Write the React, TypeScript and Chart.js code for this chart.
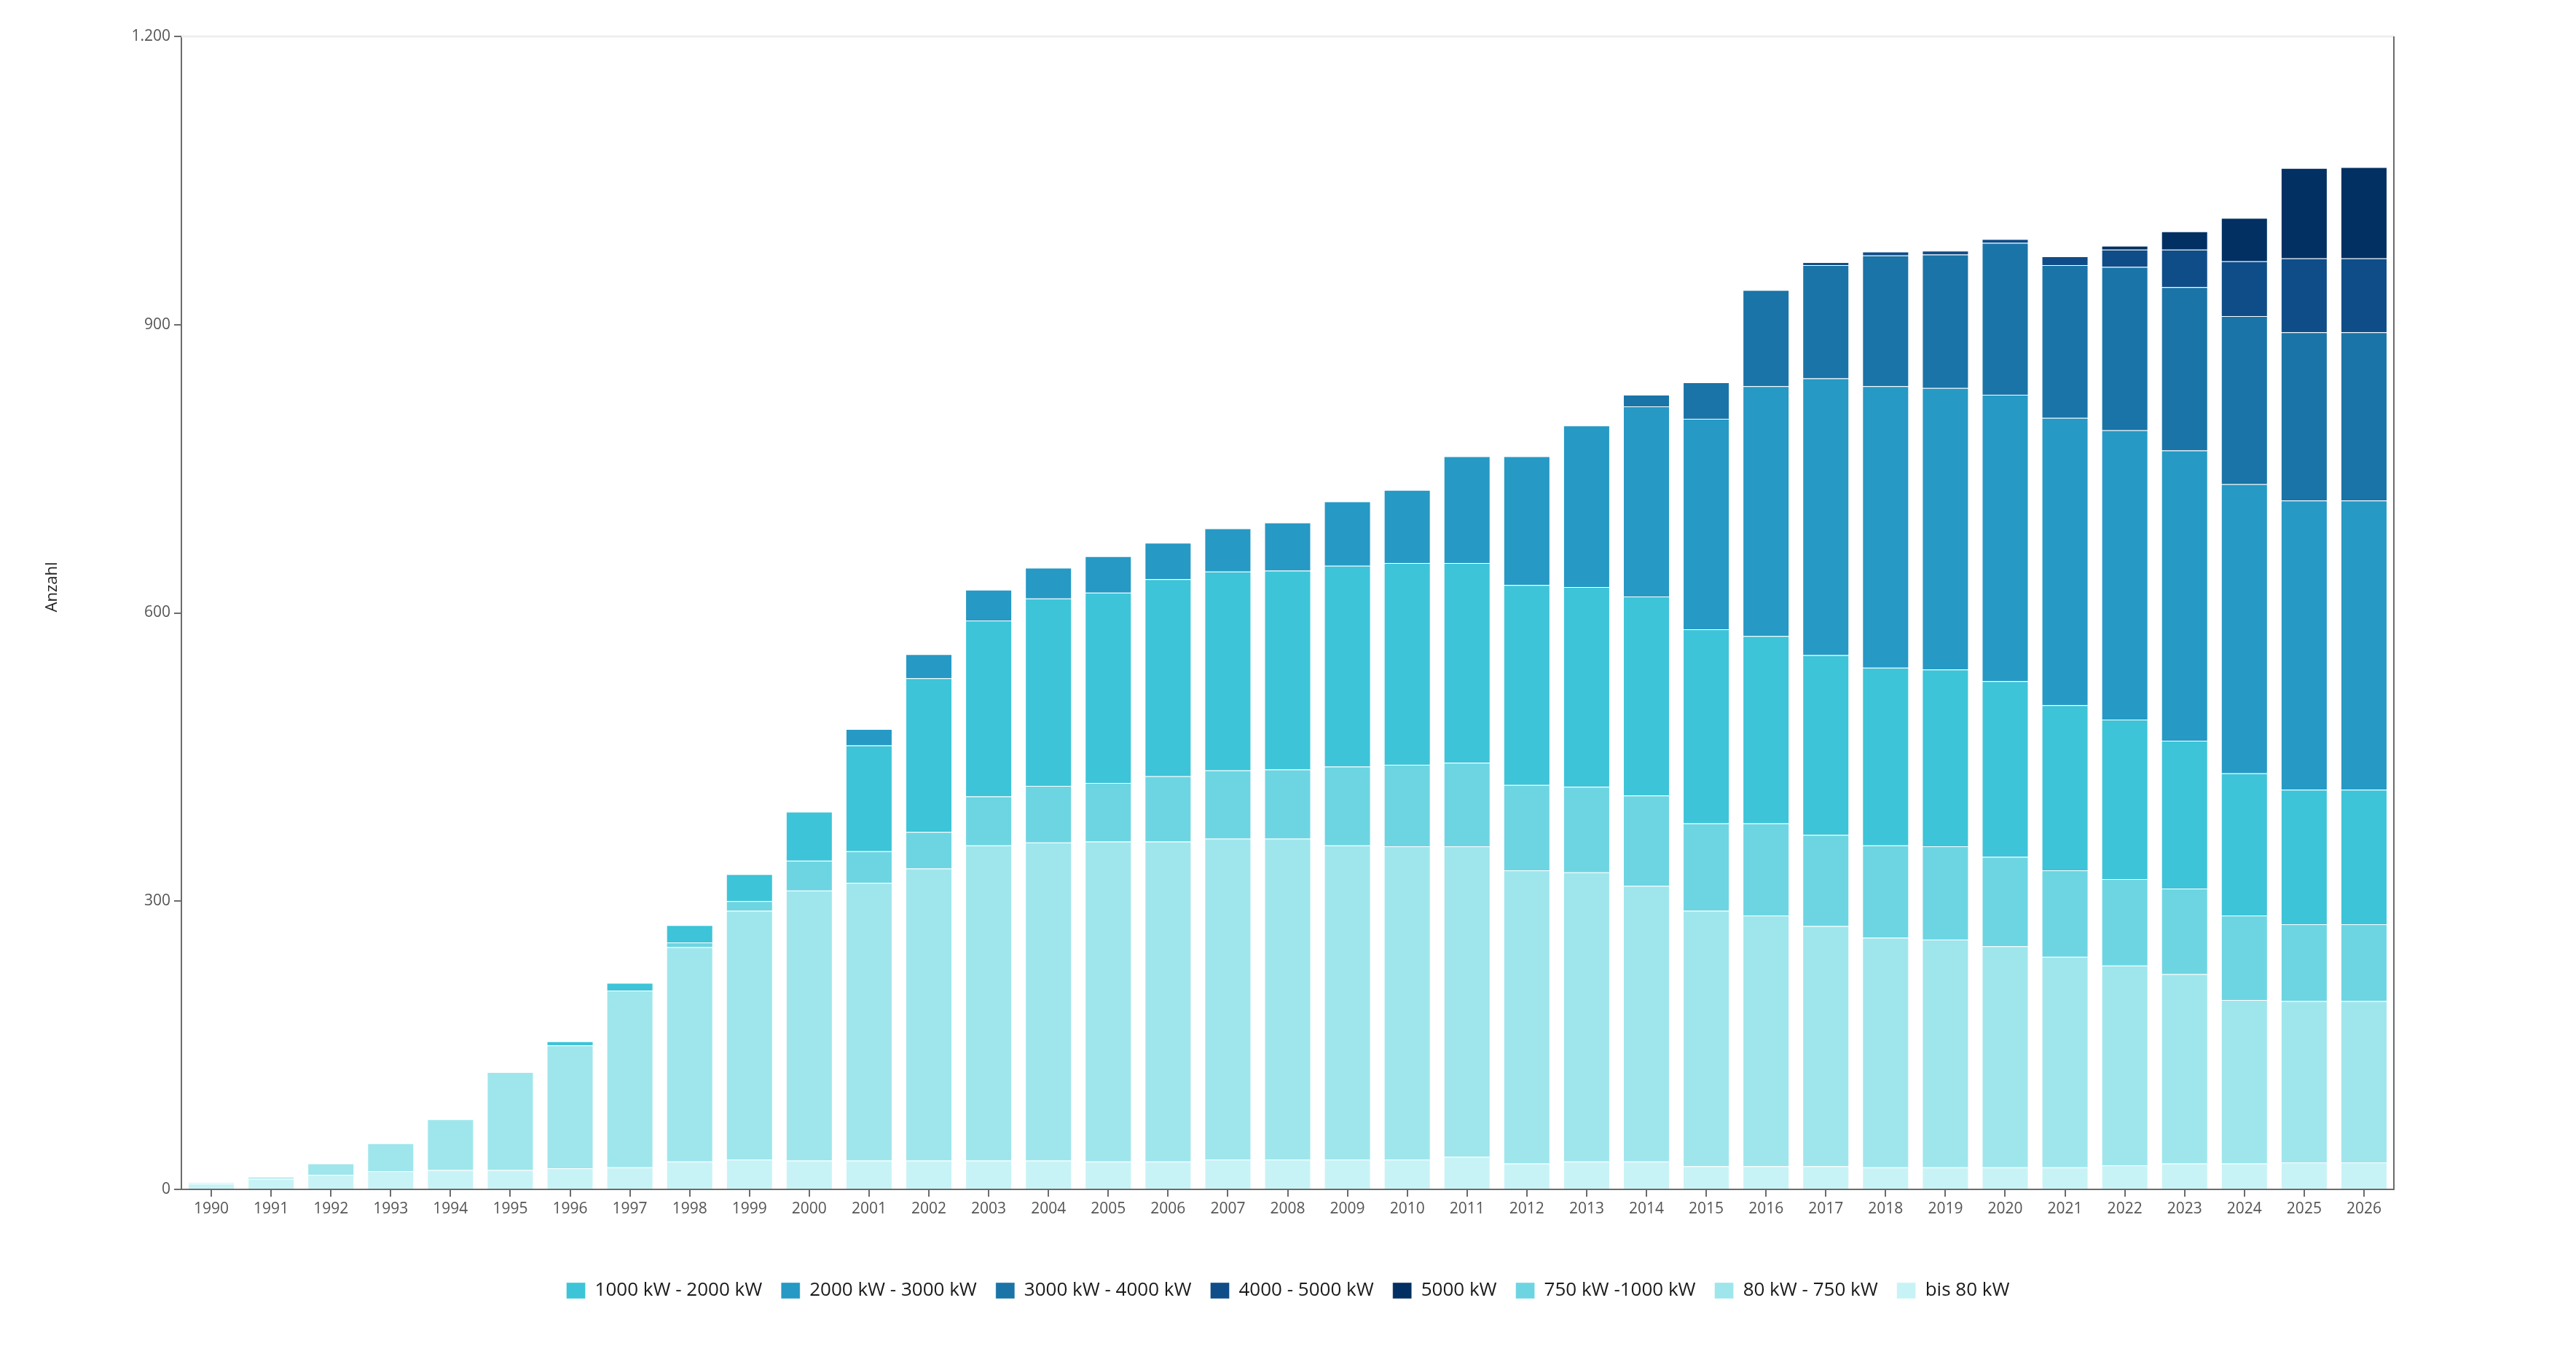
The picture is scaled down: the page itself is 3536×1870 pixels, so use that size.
import React, { useEffect, useRef } from "react";
import { Chart, registerables } from "chart.js";

Chart.register(...registerables);

const years = [
  "1990", "1991", "1992", "1993", "1994", "1995", "1996", "1997", "1998", "1999",
  "2000", "2001", "2002", "2003", "2004", "2005", "2006", "2007", "2008", "2009",
  "2010", "2011", "2012", "2013", "2014", "2015", "2016", "2017", "2018", "2019",
  "2020", "2021", "2022", "2023", "2024", "2025", "2026",
];

const bis80 = [6, 11, 15, 19, 20, 20, 22, 23, 29, 31, 30, 30, 30, 30, 30, 29, 29, 31, 31, 31, 31, 34, 27, 29, 29, 24, 24, 24, 23, 23, 23, 23, 25, 27, 27, 28, 28];
const kw80to750 = [1, 2, 12, 29, 53, 102, 128, 184, 223, 259, 281, 289, 304, 328, 331, 333, 333, 334, 334, 327, 326, 323, 305, 301, 287, 266, 261, 250, 239, 237, 230, 219, 208, 197, 170, 168, 168];
const kw750to1000 = [0, 0, 0, 0, 0, 0, 0, 0, 5, 10, 31, 33, 38, 51, 59, 61, 68, 71, 72, 82, 85, 87, 89, 89, 94, 91, 96, 95, 96, 97, 93, 90, 90, 89, 88, 80, 80];
const kw1000to2000 = [0, 0, 0, 0, 0, 0, 4, 8, 18, 28, 51, 110, 160, 183, 195, 198, 205, 207, 207, 209, 210, 208, 208, 208, 207, 202, 195, 187, 185, 184, 183, 172, 166, 154, 148, 140, 140];
const kw2000to3000 = [0, 0, 0, 0, 0, 0, 0, 0, 0, 0, 0, 17, 25, 32, 32, 38, 38, 45, 50, 67, 76, 111, 134, 168, 198, 219, 260, 288, 293, 293, 298, 299, 301, 302, 301, 301, 301];
const kw3000to4000 = [0, 0, 0, 0, 0, 0, 0, 0, 0, 0, 0, 0, 0, 0, 0, 0, 0, 0, 0, 0, 0, 0, 0, 0, 12, 38, 100, 118, 136, 139, 158, 159, 170, 170, 175, 175, 175];
const kw4000to5000 = [0, 0, 0, 0, 0, 0, 0, 0, 0, 0, 0, 0, 0, 0, 0, 0, 0, 0, 0, 0, 0, 0, 0, 0, 0, 0, 0, 3, 4, 4, 4, 9, 18, 39, 57, 77, 77];
const kw5000 = [0, 0, 0, 0, 0, 0, 0, 0, 0, 0, 0, 0, 0, 0, 0, 0, 0, 0, 0, 0, 0, 0, 0, 0, 0, 0, 0, 0, 0, 0, 0, 0, 4, 19, 45, 94, 95];

const yTicks = [0, 300, 600, 900, 1200];
const yTitle = "Anzahl";

const FONT = "'Open Sans', 'Noto Sans', sans-serif";

const framePlugin = {
  id: "frameLines",
  afterDatasetsDraw(chart: any) {
    const { ctx, chartArea } = chart;
    ctx.save();
    ctx.strokeStyle = "#eeeeee";
    ctx.lineWidth = 3;
    ctx.beginPath();
    ctx.moveTo(chartArea.left, chartArea.top);
    ctx.lineTo(chartArea.right, chartArea.top);
    ctx.stroke();
    ctx.strokeStyle = "#6b6b6b";
    ctx.lineWidth = 2;
    ctx.beginPath();
    ctx.moveTo(chartArea.right, chartArea.top);
    ctx.lineTo(chartArea.right, chartArea.bottom);
    ctx.stroke();
    // y axis title
    ctx.fillStyle = "#222222";
    ctx.font = `22px ${FONT}`;
    ctx.textAlign = "center";
    ctx.textBaseline = "middle";
    ctx.translate(72, 806);
    ctx.rotate(-Math.PI / 2);
    ctx.fillText(yTitle, 0, 0);
    ctx.restore();
  },
};

export default function App() {
  const ref = useRef<HTMLCanvasElement>(null);

  useEffect(() => {
    if (!ref.current) return;
    const mk = (label: string, data: number[], color: string, order: number) => ({
      label,
      data,
      backgroundColor: color,
      borderColor: "rgba(255,255,255,0.35)",
      borderWidth: 1,
      order,
      barPercentage: 0.78,
      categoryPercentage: 1,
    });
    const chart = new Chart(ref.current, {
      type: "bar",
      data: {
        labels: years,
        datasets: [
          mk("1000 kW - 2000 kW", kw1000to2000, "#3dc4d8", 3),
          mk("2000 kW - 3000 kW", kw2000to3000, "#2699c5", 4),
          mk("3000 kW - 4000 kW", kw3000to4000, "#1a74a7", 5),
          mk("4000 - 5000 kW", kw4000to5000, "#0f4d89", 6),
          mk("5000 kW", kw5000, "#033063", 7),
          mk("750 kW -1000 kW", kw750to1000, "#6dd5e2", 2),
          mk("80 kW - 750 kW", kw80to750, "#9ee6ec", 1),
          mk("bis 80 kW", bis80, "#c8f3f6", 0),
        ],
      },
      options: {
        animation: false,
        responsive: true,
        maintainAspectRatio: false,
        layout: { padding: { left: 40, right: 40, top: 50, bottom: 75 } },
        plugins: {
          tooltip: { enabled: false },
          legend: {
            position: "bottom",
            labels: {
              font: { family: FONT, size: 26 },
              color: "#1a1a1a",
              boxWidth: 26,
              boxHeight: 22,
              padding: 26,
              sort: (a: any, b: any) => a.datasetIndex - b.datasetIndex,
            },
          },
        },
        scales: {
          x: {
            stacked: true,
            offset: true,
            grid: {
              offset: false,
              drawOnChartArea: false,
              drawTicks: true,
              tickLength: 10,
              color: "#6b6b6b",
              lineWidth: 2,
            },
            border: { display: true, color: "#6b6b6b", width: 2 },
            ticks: {
              font: { family: FONT, size: 21 },
              color: "#555555",
              maxRotation: 0,
              autoSkip: false,
              padding: 4,
            },
            afterFit: (scale: any) => {
              scale.height = 100;
            },
          },
          y: {
            stacked: true,
            min: 0,
            max: 1200,
            afterBuildTicks: (scale: any) => {
              scale.ticks = yTicks.map((v) => ({ value: v }));
            },
            grid: {
              drawOnChartArea: false,
              drawTicks: true,
              tickLength: 10,
              color: "#6b6b6b",
              lineWidth: 2,
            },
            border: { display: true, color: "#6b6b6b", width: 2 },
            ticks: {
              font: { family: FONT, size: 21 },
              color: "#555555",
              padding: 5,
              callback: (v: any) => Number(v).toLocaleString("de-DE"),
            },
            afterFit: (scale: any) => {
              scale.width = 209;
            },
          },
          yRight: {
            position: "right",
            display: true,
            min: 0,
            max: 1200,
            grid: { display: false, drawOnChartArea: false },
            border: { display: false },
            ticks: { display: false },
            afterFit: (scale: any) => {
              scale.width = 210;
            },
          },
        },
      },
      plugins: [framePlugin],
    });
    return () => chart.destroy();
  }, []);

  return (
    <div style={{ position: "fixed", left: 0, top: 0, width: "100vw", height: "100vh", background: "#fff" }}>
      <canvas ref={ref} />
    </div>
  );
}
